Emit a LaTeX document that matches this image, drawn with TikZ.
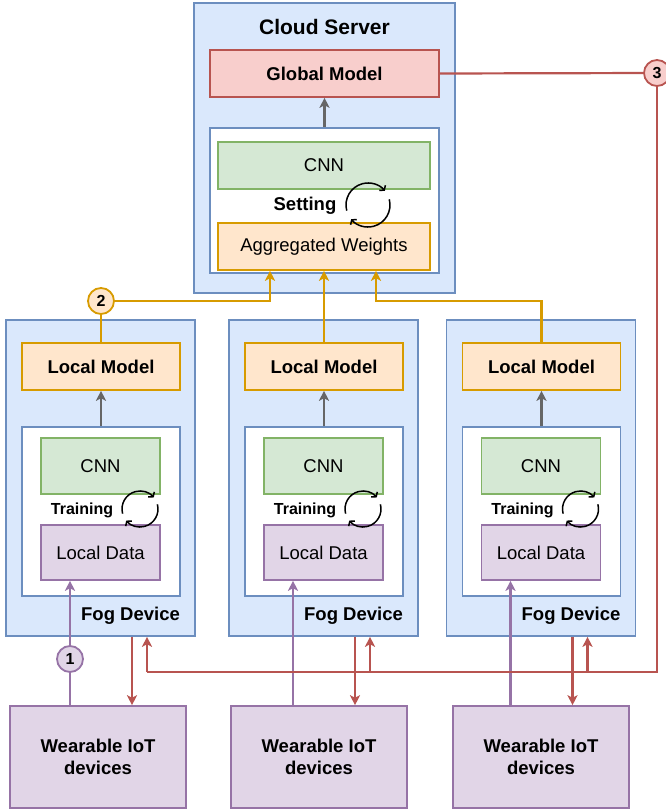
\documentclass[tikz,border=0pt]{standalone}
\usepackage{fontspec}
\setmainfont{Liberation Sans}
\usetikzlibrary{arrows.meta}
\definecolor{blueF}{HTML}{DAE8FC}
\definecolor{blueD}{HTML}{6C8EBF}
\definecolor{redF}{HTML}{F8CECC}
\definecolor{redD}{HTML}{B85450}
\definecolor{greenF}{HTML}{D5E8D4}
\definecolor{greenD}{HTML}{82B366}
\definecolor{orangeF}{HTML}{FFE6CC}
\definecolor{orangeD}{HTML}{D79B00}
\definecolor{purpleF}{HTML}{E1D5E7}
\definecolor{purpleD}{HTML}{9673A6}
\definecolor{arrowgray}{HTML}{666666}
\tikzstyle{panel}=[rectangle,draw=blueD,fill=blueF,line width=1.6pt,inner sep=0pt]
\tikzstyle{block}=[rectangle,line width=1.6pt,inner sep=0pt,font=\fontsize{18.5}{22}\selectfont]
\tikzstyle{boldblock}=[block,font=\bfseries\fontsize{18.5}{22}\selectfont]
\tikzstyle{badge}=[circle,line width=1.8pt,minimum size=26pt,inner sep=0pt,font=\bfseries\fontsize{16}{18}\selectfont]
\tikzstyle{line}=[draw,line width=2.2pt]
\tikzstyle{edge}=[draw,line width=2.2pt,-{Stealth[length=10pt,width=10pt,inset=2.5pt]}]
\tikzstyle{loop}=[draw,line width=1.5pt,-{Straight Barb[length=3pt,width=8pt]}]

\begin{document}
\begin{tikzpicture}[x=1pt,y=-1pt]
    \useasboundingbox (0,0) rectangle (665,810);

    % Cloud server with the global model
    \node[panel, minimum width=261, minimum height=290] (cloud) at (324.5,148) {};
    \node[font=\bfseries\fontsize{21}{25}\selectfont] (cloudtitle) at (324.5,27) {Cloud Server};
    \node[boldblock, draw=redD, fill=redF, minimum width=229, minimum height=47] (global) at (324.5,73.5) {Global Model};
    \node[panel, fill=white, minimum width=229, minimum height=145] (cloudin) at (324.5,200.5) {};
    \node[block, draw=greenD, fill=greenF, minimum width=212, minimum height=47] (cloudcnn) at (324,165.5) {CNN};
    \node[block, draw=orangeD, fill=orangeF, minimum width=212, minimum height=47] (agg) at (324,246.5) {Aggregated Weights};
    \node[font=\bfseries\fontsize{18.5}{22}\selectfont] (setting) at (305,206) {Setting};
    \draw[loop] (368,205) ++(195:22pt) arc[start angle=195, end angle=40, radius=22pt];
    \draw[loop] (368,205) ++(15:22pt) arc[start angle=15, end angle=-140, radius=22pt];
    \path[edge, arrowgray] (cloudin.north) -- (global.south);

    % Three fog devices and the wearables below them
    \foreach \x/\w/\i in {0/0/1, 223/221/2, 440.5/443/3}
    {
        \node[panel, minimum width=189, minimum height=316] (fog\i) at (100.5+\x,478) {};
        \node[font=\bfseries\fontsize{18.5}{22}\selectfont] (foglabel\i) at (130.5+\x,616) {Fog Device};
        \node[boldblock, draw=orangeD, fill=orangeF, minimum width=158, minimum height=47] (lm\i) at (101+\x,366.5) {Local Model};
        \node[panel, fill=white, minimum width=158, minimum height=169] (in\i) at (101+\x,511.5) {};
        \node[block, draw=greenD, fill=greenF, minimum width=119, minimum height=56] (cnn\i) at (100.5+\x,466) {CNN};
        \node[block, draw=purpleD, fill=purpleF, minimum width=119, minimum height=55] (ld\i) at (100.5+\x,552.5) {Local Data};
        \node[font=\bfseries\fontsize{16}{18}\selectfont] (training\i) at (82+\x,510) {Training};
        \draw[loop] (140+\x,509) ++(195:18pt) arc[start angle=195, end angle=40, radius=18pt];
        \draw[loop] (140+\x,509) ++(15:18pt) arc[start angle=15, end angle=-140, radius=18pt];
        \node[boldblock, align=center, draw=purpleD, fill=purpleF, minimum width=176, minimum height=102] (wear\i) at (98+\w,757) {Wearable IoT\\devices};

        \path[edge, arrowgray] (in\i.north) -- (lm\i.south);

        % data up, model down, global model back
        \coordinate (p\i) at (70+\x,0);
        \coordinate (dn\i) at (132+\x,0);
        \coordinate (up\i) at (147+\x,672);
        \path[edge, purpleD] (wear\i.north -| p\i) -- (ld\i.south -| p\i);
        \path[edge, redD] (fog\i.south -| dn\i) -- (wear\i.north -| dn\i);
        \path[edge, redD] (up\i) -- (up\i |- fog\i.south);
    }

    % Numbered steps
    \node[badge, draw=purpleD, fill=purpleF] (s1) at (70,659) {1};
    \node[badge, draw=orangeD, fill=orangeF] (s2) at (101,301) {2};
    \node[badge, draw=redD, fill=redF] (s3) at (657,73) {3};

    % Local models to the aggregation
    \coordinate (a1) at ([xshift=-54pt]agg.south);
    \coordinate (a3) at ([xshift=52pt]agg.south);
    \path[line, orangeD] (lm1.north) -- (s2);
    \path[edge, orangeD] (s2) -| (a1);
    \path[edge, orangeD] (lm2.north) -- (lm2.north |- agg.south);
    \path[edge, orangeD] (lm3.north) |- (a3 |- s2) -- (a3);

    % Global model back to the fog devices
    \path[line, redD] (global.east) -- (s3);
    \path[line, redD] (s3) |- (up1);
\end{tikzpicture}
\end{document}
